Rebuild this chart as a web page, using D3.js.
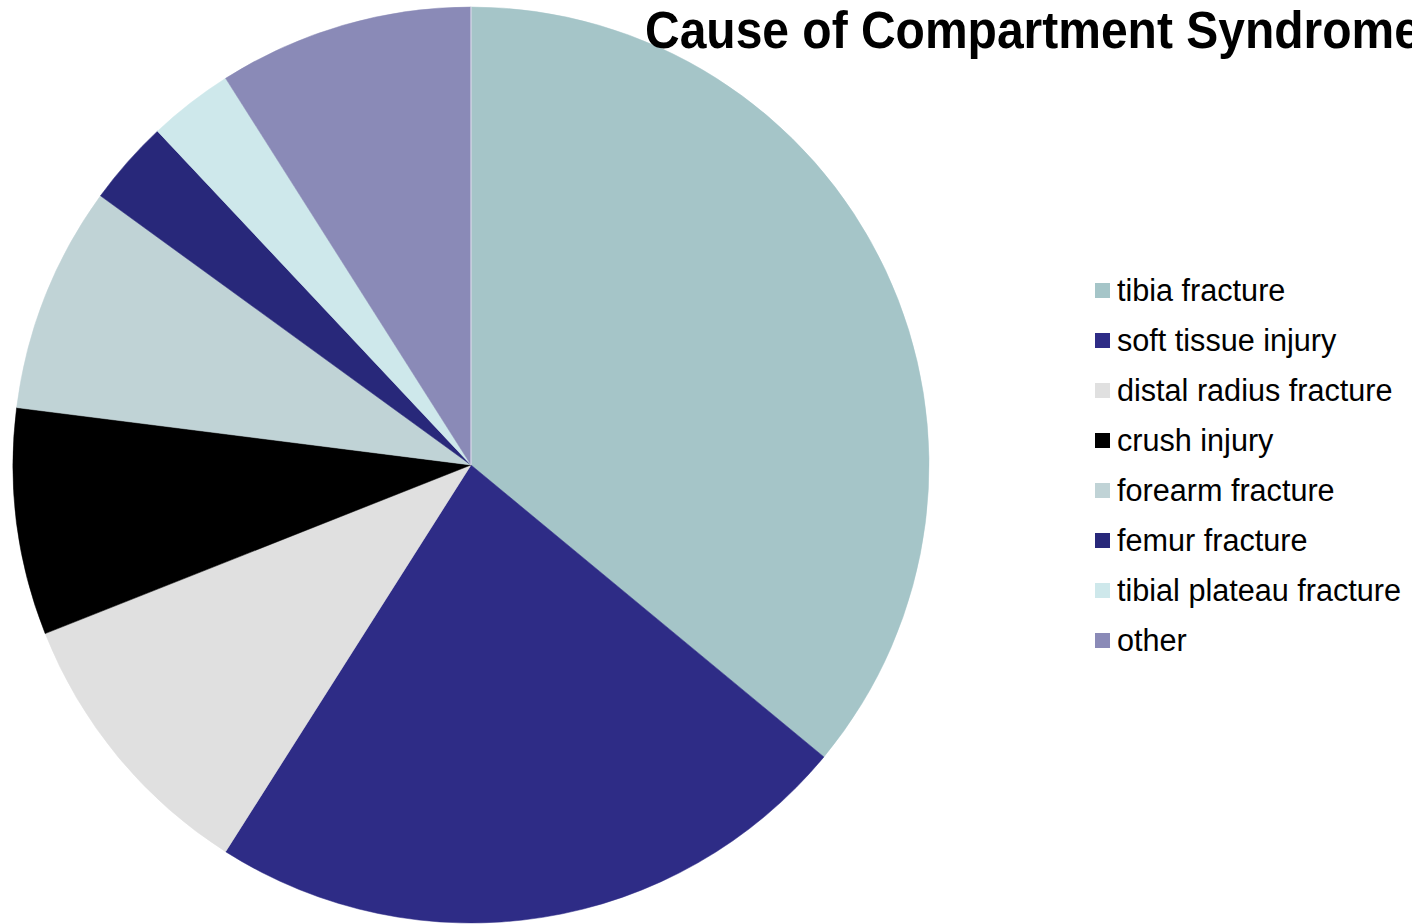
<!DOCTYPE html>
<html>
<head>
<meta charset="utf-8">
<script src="https://cdn.jsdelivr.net/npm/d3@7/dist/d3.min.js"></script>
<style>
  html, body { margin: 0; padding: 0; background: #fff; overflow: hidden; }
  svg { display: block; }
</style>
</head>
<body>
<svg id="chart" width="1412" height="924"></svg>
<script>
  // slice data, percent of cases
  var causes = ['tibia fracture', 'soft tissue injury', 'distal radius fracture', 'crush injury',
    'forearm fracture', 'femur fracture', 'tibial plateau fracture', 'other'];
  var shares = [36, 23, 10, 8, 8, 3, 3, 9];
  var colors = ['#a5c5c8', '#2e2c86', '#e0e0e0', '#000000', '#c0d3d6', '#28287a', '#cee8eb', '#8a8ab7'];

  var svg = d3.select('#chart');
  var cx = 471, cy = 465, radius = 458;

  var rows = causes.map(function(c, i) {
    return { name: c, value: shares[i], color: colors[i] };
  });

  var pie = d3.pie().sort(null).value(function(d) { return d.value; });
  var arc = d3.arc().innerRadius(0).outerRadius(radius);

  var g = svg.append('g').attr('transform', 'translate(' + cx + ',' + cy + ')');
  g.selectAll('path').data(pie(rows)).enter().append('path')
    .attr('d', arc)
    .attr('fill', function(d) { return d.data.color; })
    .attr('stroke', function(d) { return d.data.color; })
    .attr('stroke-width', 0.5);

  // thin light seam at 12 o'clock
  g.append('line')
    .attr('x1', 0).attr('y1', 0).attr('x2', 0).attr('y2', -radius)
    .attr('stroke', '#e8e8f4').attr('stroke-width', 1);

  svg.append('text')
    .attr('transform', 'translate(645,48) scale(1,1.08)')
    .attr('font-family', 'Liberation Sans, Arial, sans-serif')
    .attr('font-weight', 'bold')
    .attr('font-size', 48)
    .attr('fill', '#000')
    .text('Cause of Compartment Syndrome');

  var legend = svg.append('g').attr('transform', 'translate(1095,291)');
  var item = legend.selectAll('g').data(rows).enter().append('g')
    .attr('transform', function(d, i) { return 'translate(0,' + (i * 50) + ')'; });
  item.append('rect')
    .attr('x', 0).attr('y', -8).attr('width', 15).attr('height', 15)
    .attr('fill', function(d) { return d.color; });
  item.append('text')
    .attr('x', 22).attr('y', 10)
    .attr('font-family', 'Liberation Sans, Arial, sans-serif')
    .attr('font-size', 30.6)
    .attr('fill', '#000')
    .text(function(d) { return d.name; });
</script>
</body>
</html>
